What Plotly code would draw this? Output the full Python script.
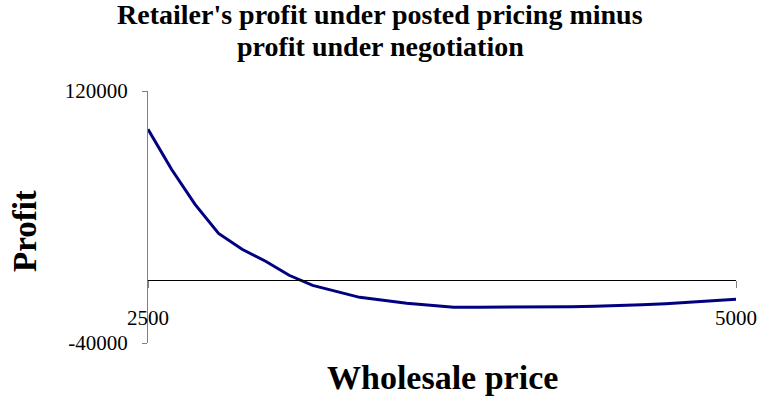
import plotly.graph_objects as go

# wholesale price grid and profit difference
wholesale_price = [2500, 2600, 2700, 2800, 2900, 3000, 3100, 3200, 3300, 3400,
                   3500, 3600, 3700, 3800, 3900, 4000, 4100, 4200, 4300, 4400,
                   4500, 4600, 4700, 4800, 4900, 5000]
profit_diff = [95700, 70300, 48000, 29600, 19500, 11900, 3000, -3400, -7200, -11000,
               -12900, -14800, -16000, -17300, -17300, -17300, -17300, -17300, -17000, -16700,
               -16000, -15700, -15100, -14200, -13500, -12300]
y_ticks = [-40000, 120000]
x_ticks = [2500, 5000]

serif = "Liberation Serif, Times New Roman, serif"

W, H = 761, 400
l, r, t, b = 148, 25, 91, 57
pw, ph = W - l - r, H - t - b


def px(x, y):
    # window pixel -> paper coords
    return (x - l) / pw, (H - b - y) / ph


fig = go.Figure(go.Scatter(x=wholesale_price, y=profit_diff, mode="lines",
                           line=dict(color="#000080", width=3), hoverinfo="x+y"))

texts = [
    ("<b>Retailer's profit under posted pricing minus</b>", 380, 15, 28, 0),
    ("<b>profit under negotiation</b>", 380, 47, 28, 0),
    ("<b>Wholesale price</b>", 442, 377, 34, 0),
    ("<b>Profit</b>", 25, 231, 33, -90),
]
annotations = []
for txt, x, y, size, angle in texts:
    ax, ay = px(x, y)
    annotations.append(dict(text=txt, x=ax, y=ay, xref="paper", yref="paper",
                            showarrow=False, textangle=angle,
                            xanchor="center", yanchor="middle",
                            font=dict(size=size, family=serif)))

fig.update_layout(
    template="none",
    width=W, height=H,
    margin=dict(l=l, r=r, t=t, b=b),
    paper_bgcolor="white", plot_bgcolor="white",
    showlegend=False,
    font=dict(family=serif, color="black", size=22),
    xaxis=dict(range=[2500, 5000], anchor="free", position=0.25, automargin=False,
               showline=True, linecolor="black", linewidth=1,
               ticks="outside", ticklen=7, tickcolor="#808080", tickwidth=1,
               tickvals=x_ticks, ticktext=[str(v) for v in x_ticks],
               ticklabelstandoff=12,
               showgrid=False, zeroline=False, tickfont=dict(size=21)),
    yaxis=dict(range=[-40000, 120000], automargin=False,
               showline=True, linecolor="#808080", linewidth=1,
               ticks="outside", ticklen=5, tickcolor="#808080",
               tickvals=y_ticks, ticktext=[str(v) for v in y_ticks],
               ticklabelstandoff=10,
               showgrid=False, zeroline=False, tickfont=dict(size=21)),
    annotations=annotations,
)

# drop the default 8px page margin so the figure fills the window exactly
fig.write_html("out.html", config={"displayModeBar": False},
               post_script="document.body.style.margin='0';document.body.style.overflow='hidden';")
